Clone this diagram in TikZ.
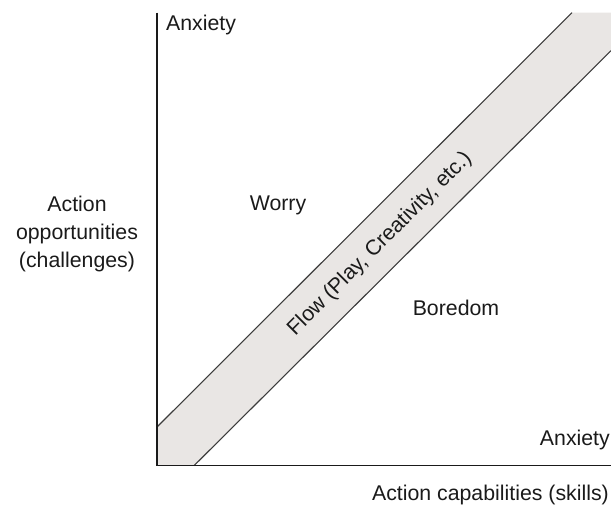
\documentclass[tikz,border=0pt]{standalone}
\usepackage{fontspec}
\setmainfont{Liberation Sans}
\definecolor{bandfill}{HTML}{E9E6E4}
\definecolor{ink}{HTML}{1A1A1A}
\begin{document}
\begin{tikzpicture}[x=1pt,y=-1pt,
  lbl/.style={font=\fontsize{21.3}{28}\selectfont, text=ink, inner sep=0pt},
  axisline/.style={draw=ink, line width=1.3pt},
  bandline/.style={draw=ink!85, line width=1.1pt}]
\useasboundingbox (0,0) rectangle (611,510);
% band coordinates
\coordinate (ul0) at (157,427);
\coordinate (ul1) at (572,12.7);
\coordinate (ll0) at (194,465.7);
\coordinate (ll1) at (611,50.7);
\coordinate (tr) at (611,12.7);
\coordinate (o) at (157,465.7);
\coordinate (ytop) at (157,12.7);
\coordinate (xend) at (611,465.7);
\fill[bandfill] (ul0) -- (ul1) -- (tr) -- (ll1) -- (ll0) -- (o) -- cycle;
\draw[bandline] (ul0) -- (ul1);
\draw[bandline] (ll0) -- (ll1);
\draw[axisline] (ytop) -- (o) -- (xend);
% labels
\node[lbl] (anxtop) at (201,25) {Anxiety};
\node[lbl, anchor=east] (anxbot) at (610,440) {Anxiety};
\node[lbl] (worry) at (278,205) {Worry};
\node[lbl] (boredom) at (456,308) {Boredom};
\node[lbl, align=center] (yl) at (77,234) {Action\\opportunities\\(challenges)};
\node[lbl, anchor=east] (xl) at (609,495) {Action capabilities (skills)};
\node[lbl, rotate=45] (flow) at (380,244) {Flow (Play, Creativity, etc.)};
\end{tikzpicture}
\end{document}
